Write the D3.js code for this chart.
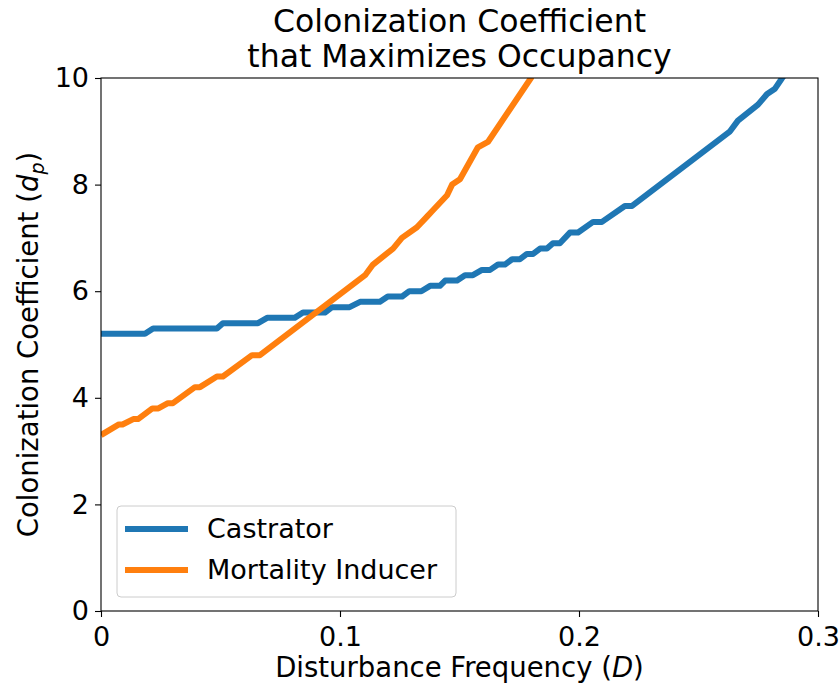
<!DOCTYPE html>
<html>
<head>
<meta charset="utf-8">
<script src="https://cdn.jsdelivr.net/npm/d3@7"></script>
<style>
  body { margin: 0; background: #fff; }
  svg { font-family: "DejaVu Sans", sans-serif; }
</style>
</head>
<body>
<svg id="chart" width="839" height="689"></svg>
<script>
// corner points (D, d_p)
const castratorD = [0, 0.0184, 0.0218, 0.0485, 0.051, 0.0657, 0.0695, 0.081, 0.0845, 0.0937, 0.0967,
  0.104, 0.1084, 0.1167, 0.120, 0.126, 0.129, 0.134, 0.1377, 0.1418, 0.144, 0.149, 0.1523, 0.1556,
  0.1594, 0.1628, 0.1661, 0.169, 0.172, 0.1753, 0.1782, 0.1808, 0.1837, 0.1866, 0.1891, 0.192,
  0.1962, 0.1996, 0.2059, 0.2096, 0.2192, 0.2222, 0.2632, 0.2665, 0.2749, 0.2787, 0.282, 0.285, 0.2883];
const castratorDp = [5.2, 5.2, 5.3, 5.3, 5.4, 5.4, 5.5, 5.5, 5.6, 5.6, 5.7,
  5.7, 5.8, 5.8, 5.9, 5.9, 6.0, 6.0, 6.1, 6.1, 6.2, 6.2, 6.3, 6.3,
  6.4, 6.4, 6.5, 6.5, 6.6, 6.6, 6.7, 6.7, 6.8, 6.8, 6.9, 6.9,
  7.1, 7.1, 7.3, 7.3, 7.6, 7.6, 9.0, 9.2, 9.5, 9.7, 9.8, 10.0, 10.2];

const mortalityD = [0, 0.0075, 0.009, 0.0135, 0.0155, 0.0215, 0.024, 0.028, 0.0301, 0.0393, 0.0414,
  0.0485, 0.051, 0.0632, 0.0665, 0.1105, 0.1138, 0.1222, 0.1259, 0.1322, 0.1364, 0.1385, 0.1448,
  0.1469, 0.1502, 0.1577, 0.1619, 0.1799, 0.182];
const mortalityDp = [3.3, 3.5, 3.5, 3.6, 3.6, 3.8, 3.8, 3.9, 3.9, 4.2, 4.2,
  4.4, 4.4, 4.8, 4.8, 6.3, 6.5, 6.8, 7.0, 7.2, 7.4, 7.5, 7.8,
  8.0, 8.1, 8.7, 8.8, 10.0, 10.3];

const seriesNames = ['Castrator', 'Mortality Inducer'];
const seriesColors = ['#1f77b4', '#ff7f0e'];
const xTicks = [0, 0.1, 0.2, 0.3];
const xTickLabels = ['0', '0.1', '0.2', '0.3'];
const yTicks = [0, 2, 4, 6, 8, 10];

const series = [
  castratorD.map((d, i) => ({x: d, y: castratorDp[i]})),
  mortalityD.map((d, i) => ({x: d, y: mortalityDp[i]}))
];

const margin = {top: 78, right: 21, bottom: 78, left: 101};
const width = 839 - margin.left - margin.right;
const height = 689 - margin.top - margin.bottom;

const svg = d3.select('#chart');
const g = svg.append('g').attr('transform', `translate(${margin.left},${margin.top})`);

const x = d3.scaleLinear().domain([0, 0.3]).range([0, width]);
const y = d3.scaleLinear().domain([0, 10]).range([height, 0]);

g.append('clipPath').attr('id', 'clip')
  .append('rect').attr('width', width).attr('height', height);

const line = d3.line().x(d => x(d.x)).y(d => y(d.y));

g.append('g').attr('clip-path', 'url(#clip)')
  .selectAll('path')
  .data(series)
  .join('path')
  .attr('d', line)
  .attr('fill', 'none')
  .attr('stroke', (d, i) => seriesColors[i])
  .attr('stroke-width', 6)
  .attr('stroke-linejoin', 'round');

// axes
const xAxis = g.append('g')
  .attr('transform', `translate(0,${height})`)
  .call(d3.axisBottom(x).tickValues(xTicks).tickFormat((d, i) => xTickLabels[i]).tickSize(6).tickPadding(5));
const yAxis = g.append('g')
  .call(d3.axisLeft(y).tickValues(yTicks).tickSize(6).tickPadding(6));

[xAxis, yAxis].forEach(a => {
  a.select('.domain').remove();
  a.selectAll('line').attr('stroke', '#000').attr('stroke-width', 1.1);
  a.selectAll('text').attr('font-size', 27).attr('fill', '#000')
    .attr('font-family', '"DejaVu Sans", sans-serif');
});
xAxis.selectAll('text').attr('dy', '0.88em');

g.append('rect')
  .attr('width', width).attr('height', height)
  .attr('fill', 'none').attr('stroke', '#000').attr('stroke-width', 1.1);

// titles
svg.append('text')
  .attr('x', margin.left + width / 2).attr('y', 32)
  .attr('text-anchor', 'middle').attr('font-size', 31.5)
  .text('Colonization Coefficient');
svg.append('text')
  .attr('x', margin.left + width / 2).attr('y', 67)
  .attr('text-anchor', 'middle').attr('font-size', 31.5)
  .text('that Maximizes Occupancy');

const xl = svg.append('text')
  .attr('x', margin.left + width / 2).attr('y', 677)
  .attr('text-anchor', 'middle').attr('font-size', 27.5);
xl.append('tspan').text('Disturbance Frequency (');
xl.append('tspan').attr('font-style', 'italic').text('D');
xl.append('tspan').text(')');

const yl = svg.append('text')
  .attr('transform', `translate(38,${margin.top + height / 2}) rotate(-90)`)
  .attr('text-anchor', 'middle').attr('font-size', 27.5);
yl.append('tspan').text('Colonization Coefficient (');
yl.append('tspan').attr('font-style', 'italic').text('d');
yl.append('tspan').attr('font-style', 'italic').attr('font-size', 19).attr('dy', 6).text('p');
yl.append('tspan').attr('dy', -6).text(')');

// legend
const legend = g.append('g').attr('transform', `translate(16,${height - 105})`);
legend.append('rect')
  .attr('width', 339).attr('height', 91).attr('rx', 4)
  .attr('fill', '#fff').attr('fill-opacity', 0.8)
  .attr('stroke', '#ccc').attr('stroke-width', 1);
const items = legend.selectAll('.item')
  .data(seriesNames)
  .join('g').attr('class', 'item')
  .attr('transform', (d, i) => `translate(0,${23 + i * 41})`);
items.append('line')
  .attr('x1', 8).attr('x2', 71)
  .attr('stroke', (d, i) => seriesColors[i]).attr('stroke-width', 6);
items.append('text')
  .attr('x', 90).attr('dy', '0.35em').attr('font-size', 27)
  .text(d => d);
</script>
</body>
</html>
